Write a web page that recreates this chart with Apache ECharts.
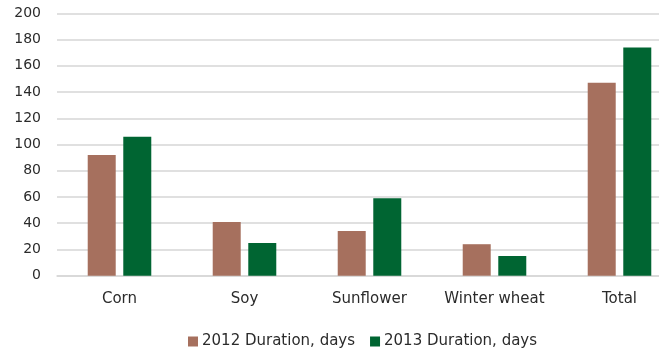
<!DOCTYPE html>
<html>
<head>
<meta charset="utf-8">
<script src="https://cdn.jsdelivr.net/npm/echarts@6/dist/echarts.min.js"></script>
<style>
  html, body { margin: 0; padding: 0; background: #ffffff; }
  #chart { width: 664px; height: 349px; }
</style>
</head>
<body>
<div id="chart"></div>
<script>
// Crop season duration by crop, in days
const categories = ['Corn', 'Soy', 'Sunflower', 'Winter wheat', 'Total'];
const duration2012 = [92, 41, 34, 24, 147];
const duration2013 = [106, 25, 59, 15, 174];
const seriesNames = ['2012 Duration, days', '2013 Duration, days'];
const yTicks = { min: 0, max: 200, interval: 20 };

const FONT = '"DejaVu Sans"';
const TEXT = '#2b2b2b';
const GRID_LINE = '#d6d6d6';

const chart = echarts.init(document.getElementById('chart'), null, { renderer: 'canvas' });

chart.setOption({
  animation: false,
  backgroundColor: '#ffffff',
  textStyle: { fontFamily: FONT },
  grid: {
    left: 57, top: 13.3, bottom: 73.3, width: 625,
    containLabel: false,
    outerBoundsMode: 'none'
  },
  legend: {
    data: seriesNames,
    left: 183,
    top: 329,
    itemWidth: 10,
    itemHeight: 10,
    itemGap: 15,
    icon: 'rect',
    textStyle: { fontFamily: FONT, fontSize: 15, color: TEXT, padding: [0, 0, 0, -1] }
  },
  xAxis: {
    type: 'category',
    data: categories,
    axisLine: { show: true, lineStyle: { color: GRID_LINE, width: 1.5 } },
    axisTick: { show: false },
    axisLabel: { fontFamily: FONT, fontSize: 15, color: TEXT, margin: 16, interval: 0 }
  },
  yAxis: {
    type: 'value',
    min: yTicks.min,
    max: yTicks.max,
    interval: yTicks.interval,
    axisLine: { show: false },
    axisTick: { show: false },
    splitLine: { lineStyle: { color: GRID_LINE, width: 1.5 } },
    axisLabel: { fontFamily: FONT, fontSize: 14, color: TEXT, margin: 16 }
  },
  series: [
    {
      name: seriesNames[0],
      type: 'bar',
      data: duration2012,
      barWidth: 28,
      barGap: '27%',
      itemStyle: { color: '#a6705e' }
    },
    {
      name: seriesNames[1],
      type: 'bar',
      data: duration2013,
      barWidth: 28,
      barGap: '27%',
      itemStyle: { color: '#006532' }
    }
  ],
  // the plot frame stops a little short of the right edge
  graphic: [{
    type: 'rect',
    right: 0,
    top: 0,
    z: 100,
    shape: { width: 5, height: 280 },
    style: { fill: '#ffffff' }
  }]
});
</script>
</body>
</html>
